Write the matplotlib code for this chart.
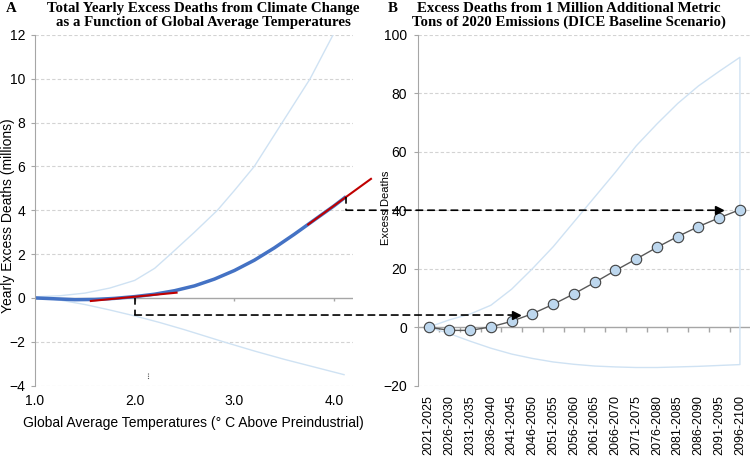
import matplotlib
matplotlib.use("Agg")
import matplotlib.pyplot as plt
from matplotlib.patches import ConnectionPatch

plt.rcParams['font.family'] = ['Liberation Sans', 'DejaVu Sans']

# panel A data
temps = [1.0, 1.2, 1.4, 1.6, 1.8, 2.0, 2.2, 2.4, 2.6, 2.8, 3.0, 3.2, 3.4, 3.6, 3.8, 4.0, 4.12]
central = [0, -0.04, -0.08, -0.07, -0.02, 0.06, 0.17, 0.33, 0.55, 0.86, 1.25, 1.72, 2.28, 2.9, 3.55, 4.2, 4.62]
upper_t = [1.0, 1.25, 1.5, 1.75, 2.0, 2.2, 2.36, 2.6, 2.83, 3.0, 3.2, 3.48, 3.76, 3.99]
upper_a = [0.05, 0.1, 0.22, 0.45, 0.8, 1.35, 2.0, 3.0, 4.0, 4.9, 6.0, 8.0, 10.0, 12.0]
lower_t = [1.0, 1.25, 1.5, 1.75, 2.0, 2.25, 2.5, 2.89, 3.2, 3.5, 3.8, 4.1]
lower_a = [0.05, -0.1, -0.3, -0.55, -0.82, -1.12, -1.45, -2.0, -2.42, -2.8, -3.15, -3.5]
red1_x = [1.56, 2.42]
red1_y = [-0.14, 0.24]
red2_x = [3.74, 4.37]
red2_y = [3.35, 5.43]

# panel B data
periods = ["2021-2025", "2026-2030", "2031-2035", "2036-2040", "2041-2045", "2046-2050",
           "2051-2055", "2056-2060", "2061-2065", "2066-2070", "2071-2075", "2076-2080",
           "2081-2085", "2086-2090", "2091-2095", "2096-2100"]
deaths = [0, -1.1, -1.1, 0.1, 2.0, 4.6, 7.8, 11.4, 15.3, 19.4, 23.3, 27.3, 31.0, 34.4, 37.4, 40.2]
upper_b = [0, 2.5, 4.5, 7.5, 13, 20, 27.5, 36, 44.5, 53, 62, 69.5, 76.5, 82.5, 87.5, 92.3]
lower_b = [0, -2.2, -4.8, -7.2, -9.2, -10.7, -11.9, -12.7, -13.3, -13.6, -13.8, -13.8, -13.6, -13.4, -13.1, -12.8]

grid_c = "#d3d3d3"
axis_c = "#a6a6a6"
light = "#cfe2f3"

fig = plt.figure(figsize=(7.5, 4.58), dpi=100)
axA = fig.add_axes([0.0467, 0.158, 0.424, 0.766])
axB = fig.add_axes([0.5577, 0.158, 0.4427, 0.766])

# ---- panel A
axA.set_xlim(1.0, 4.19)
axA.set_ylim(-4, 12)
axA.set_yticks(range(-4, 13, 2))
axA.set_xticks([1, 2, 3, 4])
axA.set_xticklabels(["1.0", "2.0", "3.0", "4.0"])
for y in [-4, -2, 2, 4, 6, 8, 10, 12]:
    axA.axhline(y, color=grid_c, lw=0.8, ls=(0, (3, 2)), zorder=0)
axA.axhline(0, color=axis_c, lw=1.0, zorder=1)
axA.vlines([2, 3, 4], 0, -0.15, color=axis_c, lw=1.0)
for s in ["top", "right", "bottom"]:
    axA.spines[s].set_visible(False)
axA.spines["left"].set_color(axis_c)
axA.tick_params(axis="x", length=0, pad=6, labelsize=10)
axA.tick_params(axis="y", length=3, color=axis_c, pad=4, labelsize=10)

axA.plot(upper_t, upper_a, color=light, lw=1.0)
axA.plot(lower_t, lower_a, color=light, lw=1.0)
axA.plot(temps, central, color="#4472c4", lw=2.5, solid_capstyle="butt")
axA.plot(red1_x, red1_y, color="#c00000", lw=1.5)
axA.plot(red2_x, red2_y, color="#c00000", lw=1.5, clip_on=False)

dash = (0, (4, 3))
axA.plot([2.0, 2.0], [0, -0.78], color="k", lw=1.2, ls=dash)
axA.plot([4.12, 4.12], [4.62, 4.0], color="k", lw=1.2, ls=dash, clip_on=False)
axA.plot([2.13, 2.13], [-3.44, -3.7], color="#555555", lw=0.8, ls=(0, (1, 1)))

# ---- panel B
xs = list(range(len(periods)))
axB.set_xlim(-0.5, len(periods) - 0.5)
axB.set_ylim(-20, 100)
axB.set_yticks(range(-20, 101, 20))
axB.set_xticks(xs)
axB.set_xticklabels(periods, rotation=90)
for y in [-20, 20, 40, 60, 80, 100]:
    axB.axhline(y, color=grid_c, lw=0.8, ls=(0, (3, 2)), zorder=0)
axB.axhline(0, color=axis_c, lw=1.0, zorder=1)
axB.vlines([x + 0.5 for x in xs[:-1]], 0, -1.7, color=axis_c, lw=1.0)
for s in ["top", "right", "bottom"]:
    axB.spines[s].set_visible(False)
axB.spines["left"].set_color(axis_c)
axB.tick_params(axis="x", length=0, pad=7, labelsize=9)
axB.tick_params(axis="y", length=3, color=axis_c, pad=5, labelsize=10)

axB.plot(xs + xs[::-1], lower_b + upper_b[::-1], color=light, lw=1.0)
axB.plot(xs, deaths, color="#595959", lw=1.0, marker="o", markersize=7.5,
         markerfacecolor="#bdd7ee", markeredgecolor="#404040", markeredgewidth=0.8, zorder=3)


def to_b(y):
    # same vertical extent for both axes, so map the left value onto the right scale
    return -20 + 120 * (y + 4) / 16


for (xa, ya, xb) in [(2.0, -0.78, 4.3), (4.12, 4.0, 14.1)]:
    yb = to_b(ya)
    con = ConnectionPatch(xyA=(xa, ya), coordsA=axA.transData, xyB=(xb - 0.15, yb),
                          coordsB=axB.transData, color="k", lw=1.2, ls=dash)
    fig.add_artist(con)
    axB.plot([xb - 0.1], [yb], marker=">", color="k", markersize=6, zorder=4)

# ---- texts
serif = ["Liberation Serif", "DejaVu Serif"]
tsize = 10.7
fig.text(0.008, 0.982, "A", fontsize=tsize, fontweight="bold", family=serif, va="center")
fig.text(0.271, 0.982, "Total Yearly Excess Deaths from Climate Change",
         fontsize=tsize, fontweight="bold", family=serif, ha="center", va="center")
fig.text(0.271, 0.951, "as a Function of Global Average Temperatures",
         fontsize=tsize, fontweight="bold", family=serif, ha="center", va="center")
fig.text(0.517, 0.982, "B", fontsize=tsize, fontweight="bold", family=serif, va="center")
fig.text(0.7587, 0.982, "Excess Deaths from 1 Million Additional Metric",
         fontsize=tsize, fontweight="bold", family=serif, ha="center", va="center")
fig.text(0.7587, 0.951, "Tons of 2020 Emissions (DICE Baseline Scenario)",
         fontsize=tsize, fontweight="bold", family=serif, ha="center", va="center")

fig.text(0.0107, 0.528, "Yearly Excess Deaths (millions)", fontsize=10,
         rotation=90, ha="center", va="center")
fig.text(0.258, 0.0764, "Global Average Temperatures (\u00b0 C Above Preindustrial)",
         fontsize=10, ha="center", va="center")
fig.text(0.5147, 0.546, "Excess Deaths", fontsize=8, rotation=90, ha="center", va="center")

fig.savefig("out.png", dpi=100)
